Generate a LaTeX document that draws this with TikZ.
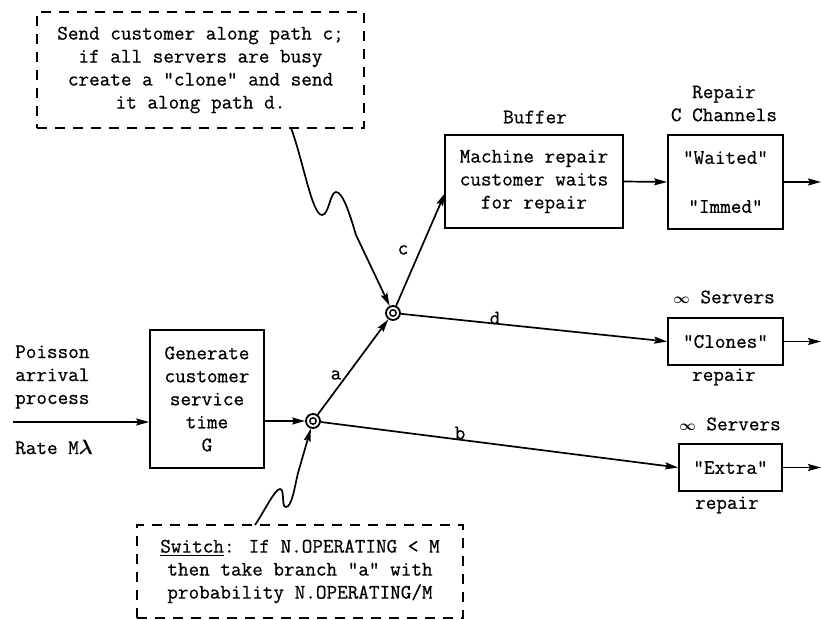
\documentclass[tikz,border=0pt]{standalone}
\usepackage{amsmath}
\usepackage{fontspec}
\newfontfamily\tw[FakeBold=0.6]{Latin Modern Mono}
\usetikzlibrary{arrows.meta}
\newcommand{\myinf}{{\fontsize{15}{15}\selectfont$\boldsymbol{\infty}$}}
\tikzset{
  txt/.style={font=\tw\fontsize{20.6}{23}\selectfont, inner sep=0pt, align=center},
  box/.style={txt, draw, line width=1.7pt},
  dbox/.style={txt, draw, line width=1.9pt, dash pattern=on 10pt off 8pt},
  conn/.style={line width=1.7pt},
  arr/.style={conn, -{Stealth[length=13pt,width=7pt,inset=2pt]}},
  junction/.style={circle, draw, line width=1.8pt, inner sep=0pt, minimum size=14pt,
    path picture={\draw[line width=1.4pt] (path picture bounding box.center) circle (3.2pt);}}
}
\begin{document}
\begin{tikzpicture}[x=1pt,y=-1pt]
\useasboundingbox (0,0) rectangle (821,620);
% top dashed note
\node[dbox, minimum width=327pt, minimum height=116pt] (note1) at (200.5,70)
  {Send customer along path c;\\if all servers are busy\\create a "clone" and send\\it along path d.};
% switch note
\node[dbox, minimum width=326pt, minimum height=93pt] (note2) at (300,571.5)
  {\underline{Switch}:  If N.OPERATING < M\\then take branch "a" with\\probability N.OPERATING/M};
% left labels
\node[txt, align=left, anchor=west] (pois) at (15,377) {Poisson\\arrival\\process};
\node[txt, anchor=west] (rate) at (15,447) {Rate M$\boldsymbol{\lambda}$};
% boxes
\node[box, minimum width=114pt, minimum height=138pt] (gen) at (207,399)
  {Generate\\customer\\service\\time\\G};
\node[box, minimum width=178pt, minimum height=93pt] (buf) at (534,181.5)
  {Machine repair\\customer waits\\for repair};
\node[box, minimum width=115pt, minimum height=94pt] (rep) at (725.5,182)
  {"Waited"\\[26pt]"Immed"};
\node[box, minimum width=115pt, minimum height=47pt] (clo) at (725.5,341.5) {"Clones"};
\node[box, minimum width=103pt, minimum height=47pt] (ext) at (730.5,467.5) {"Extra"};
% box labels
\node[txt] (buflab) at (535,117) {Buffer};
\node[txt] (replab) at (724,103.5) {Repair\\C Channels};
\node[txt] (clolab) at (724,297) {\myinf\ Servers};
\node[txt] (clolab2) at (724,377) {repair};
\node[txt] (extlab) at (730,424) {\myinf\ Servers};
\node[txt] (extlab2) at (727,505) {repair};
% junctions
\node[junction] (j1) at (313,421) {};
\node[junction] (j2) at (393,313) {};
% branch labels
\node[txt] (la) at (336,375) {a};
\node[txt] (lb) at (460,433) {b};
\node[txt] (lc) at (403,250) {c};
\node[txt] (ld) at (495,318) {d};
% coordinates
\coordinate (in) at (13,422);
\coordinate (cin) at (445,193);
\coordinate (o1) at (821,182);
\coordinate (o2) at (821,341.5);
\coordinate (o3) at (821,467.5);
\coordinate (s1) at (291,128);
\coordinate (s2) at (255,525);
% connectors
\draw[arr] (in) -- (in -| gen.west);
\draw[arr] (j1 -| gen.east) -- (j1);
\draw[arr] (j1) -- (j2);
\draw[arr] (j1) -- (ext.west);
\draw[arr] (j2) -- (cin);
\draw[arr] (j2) -- (clo.west);
\draw[arr] (buf.east) -- (rep.west);
\draw[arr] (rep.east) -- (o1);
\draw[arr] (clo.east) -- (o2);
\draw[arr] (ext.east) -- (o3);
% squiggles
\draw[arr] (s1) .. controls (303,160) and (312,215) .. (322,215)
  .. controls (329,215) and (330,192) .. (336,192)
  .. controls (343,192) and (350,215) .. (356,235) -- (j2);
\draw[arr] (s2) .. controls (265,510) and (275,489) .. (280,489)
  .. controls (285,489) and (281,507) .. (286,507)
  .. controls (292,507) and (295,485) .. (298,473) -- (j1);
\end{tikzpicture}
\end{document}
